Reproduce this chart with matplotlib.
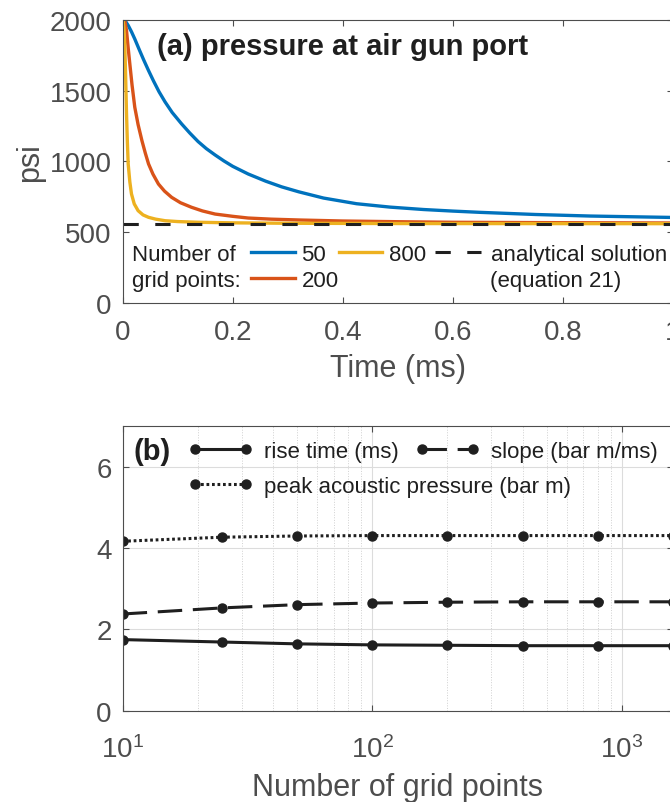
import matplotlib
matplotlib.use("Agg")
import matplotlib.pyplot as plt
from matplotlib.ticker import LogLocator, NullFormatter

# panel (a): pressure at the air gun port (psi) vs time (ms)
t50 = [0, 0.005, 0.01, 0.016, 0.022, 0.03, 0.038, 0.047, 0.056, 0.066, 0.077, 0.09,
       0.107, 0.122, 0.137, 0.152, 0.168, 0.184, 0.2, 0.228, 0.26, 0.289, 0.32,
       0.365, 0.425, 0.486, 0.547, 0.6, 0.65, 0.75, 0.85, 1.0]
p50 = [2000, 1990, 1960, 1915, 1864, 1790, 1718, 1641, 1568, 1492, 1420, 1345,
       1265, 1200, 1140, 1090, 1045, 1003, 965, 911, 860, 820, 785,
       741, 701, 677, 660, 649, 640, 625, 614, 604]
t200 = [0, 0.004, 0.007, 0.01, 0.013, 0.017, 0.022, 0.028, 0.035, 0.041, 0.047, 0.055,
        0.065, 0.076, 0.089, 0.105, 0.125, 0.145, 0.168, 0.2, 0.228, 0.27, 0.322,
        0.4, 0.5, 0.6, 0.8, 1.0]
p200 = [2000, 1990, 1923, 1800, 1688, 1540, 1382, 1260, 1146, 1060, 982, 910,
        840, 790, 746, 708, 676, 650, 628, 612, 600, 592, 586,
        579, 574, 570, 567, 565]
t800 = [0, 0.001, 0.002, 0.003, 0.004, 0.0055, 0.007, 0.0085, 0.010, 0.013, 0.016,
        0.021, 0.028, 0.037, 0.047, 0.06, 0.077, 0.1, 0.137, 0.2, 0.3, 0.5, 1.0]
p800 = [2000, 1990, 1950, 1890, 1806, 1580, 1335, 1140, 982, 855, 770,
        700, 652, 622, 605, 592, 581, 575, 570, 566, 563, 561, 560]
p_analytic = 558
time_ticks = [0, 0.2, 0.4, 0.6, 0.8, 1]
time_labels = ["0", "0.2", "0.4", "0.6", "0.8", "1"]

# panel (b): convergence with number of grid points
npts = [10, 25, 50, 100, 200, 400, 800, 1600]
rise = [1.75, 1.69, 1.645, 1.62, 1.61, 1.60, 1.60, 1.60]
slope = [2.38, 2.53, 2.61, 2.65, 2.67, 2.68, 2.68, 2.68]
peak = [4.17, 4.27, 4.30, 4.31, 4.31, 4.31, 4.31, 4.31]

blue = "#0072BD"
red = "#D95319"
yellow = "#EDB120"
axcol = "#4d4d4d"
ink = "#1f1f1f"

plt.rcParams['font.family'] = ['Liberation Sans', 'DejaVu Sans']
plt.rcParams['axes.edgecolor'] = axcol
plt.rcParams['xtick.color'] = axcol
plt.rcParams['ytick.color'] = axcol
plt.rcParams['axes.labelcolor'] = axcol

fig = plt.figure(figsize=(6.7, 8.03), dpi=100)
ax1 = fig.add_axes([0.1831, 0.6214, 0.8213, 0.3528])
ax2 = fig.add_axes([0.1831, 0.1137, 0.8213, 0.3542])

for ax in (ax1, ax2):
    ax.tick_params(direction='in', length=4, width=0.8, labelsize=20, pad=8,
                   top=True, right=True)
    for s in ax.spines.values():
        s.set_linewidth(0.8)
ax1.tick_params(axis='x', pad=11.5)
ax2.tick_params(axis='x', pad=18)

# ---- (a)
h50, = ax1.plot(t50, p50, color=blue, lw=2.4, label='50')
h200, = ax1.plot(t200, p200, color=red, lw=2.4, label='200')
h800, = ax1.plot(t800, p800, color=yellow, lw=2.4, label='800')
ha = ax1.axhline(p_analytic, color=ink, lw=2.2, dashes=(5, 5.4),
                 label='analytical solution')
ax1.set_xlim(0, 1)
ax1.set_ylim(0, 2000)
ax1.set_yticks([0, 500, 1000, 1500, 2000])
ax1.set_xticks(time_ticks)
ax1.set_xticklabels(time_labels)
ax1.set_xlabel("Time (ms)", fontsize=22)
ax1.set_ylabel("psi", fontsize=22)
ax1.xaxis.set_label_coords(0.5, -0.177)
ax1.yaxis.set_label_coords(-0.141, 0.5)
ax1.text(0.062, 0.907, "(a) pressure at air gun port", transform=ax1.transAxes,
         fontsize=21, fontweight='bold', color=ink, va='center', ha='left')

ax1.text(0.017, 0.173, "Number of", transform=ax1.transAxes, fontsize=16,
         color=ink, va='center')
ax1.text(0.017, 0.078, "grid points:", transform=ax1.transAxes, fontsize=16,
         color=ink, va='center')
leg1 = ax1.legend(handles=[h50, h200, h800], ncol=2, loc='center left',
                  bbox_to_anchor=(0.234, 0.1255), frameon=False, fontsize=16,
                  borderpad=0, borderaxespad=0, handlelength=1.95,
                  handletextpad=0.3, columnspacing=0, labelspacing=0.2,
                  labelcolor=ink)
ax1.add_artist(leg1)
ax1.legend(handles=[ha], loc='center left', bbox_to_anchor=(0.5675, 0.173),
           frameon=False, fontsize=16, borderpad=0, borderaxespad=0,
           handlelength=2.05, handletextpad=0.45, labelcolor=ink)
ax1.text(0.668, 0.078, "(equation 21)", transform=ax1.transAxes, fontsize=16,
         color=ink, va='center')

# ---- (b)
ax2.set_xscale('log')
ax2.grid(True, which='major', color='#dcdcdc', lw=0.8)
ax2.grid(True, which='minor', axis='x', color='#d0d0d0', lw=0.7, ls=':')
ax2.set_axisbelow(True)
r, = ax2.plot(npts, rise, color=ink, lw=2.2, marker='o', ms=6.5,
              label='rise time (ms)')
sl, = ax2.plot(npts, slope, color=ink, lw=2.2, marker='o', ms=6.5,
               dashes=(8, 3.5), label='slope (bar m/ms)')
pk, = ax2.plot(npts, peak, color=ink, lw=2.2, marker='o', ms=6.5,
               dashes=(0.9, 0.9), label='peak acoustic pressure (bar m)')
ax2.set_xlim(10, 1600)
ax2.set_ylim(0, 7)
ax2.set_yticks([0, 2, 4, 6])
ax2.xaxis.set_minor_locator(LogLocator(base=10, subs=range(2, 10)))
ax2.xaxis.set_minor_formatter(NullFormatter())
ax2.tick_params(which='minor', length=0)
ax2.set_xlabel("Number of grid points", fontsize=22)
ax2.xaxis.set_label_coords(0.5, -0.215)
ax2.text(0.019, 0.913, "(b)", transform=ax2.transAxes, fontsize=21,
         fontweight='bold', color=ink, va='center', ha='left')
legb = ax2.legend(handles=[r, sl], ncol=2, loc='center left',
                  bbox_to_anchor=(0.119, 0.913), frameon=False, fontsize=16,
                  borderpad=0, borderaxespad=0, handlelength=2.9,
                  handletextpad=0.5, columnspacing=0.75, numpoints=2,
                  labelcolor=ink)
ax2.add_artist(legb)
ax2.legend(handles=[pk], loc='center left', bbox_to_anchor=(0.119, 0.790),
           frameon=False, fontsize=16, borderpad=0, borderaxespad=0,
           handlelength=2.9, handletextpad=0.5, numpoints=2, labelcolor=ink)

fig.savefig("out.png", dpi=100)
